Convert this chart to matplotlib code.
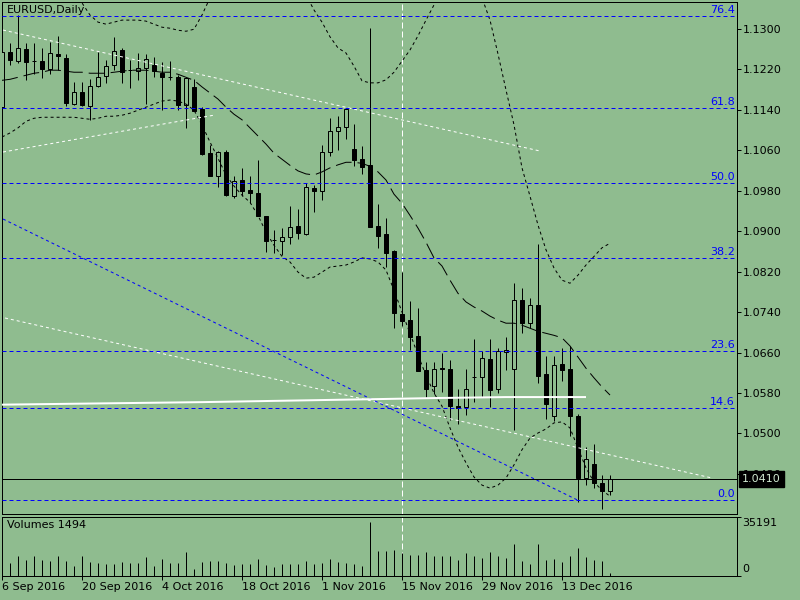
import matplotlib
matplotlib.use("Agg")
import matplotlib.pyplot as plt
import numpy as np

# ---------------- data ----------------
chart_title = "EURUSD,Daily"
volume_title = "Volumes 1494"
date_labels = ["6 Sep 2016", "20 Sep 2016", "4 Oct 2016", "18 Oct 2016",
               "1 Nov 2016", "15 Nov 2016", "29 Nov 2016", "13 Dec 2016"]
date_tick_bars = [0, 10, 20, 30, 40, 50, 60, 70]

opens = [1.1145,1.1254,1.1236,1.1259,1.1236,1.1236,1.1221,1.1251,1.1243,1.1151,
         1.1174,1.1147,1.1187,1.1206,1.1229,1.1258,1.1218,1.1217,1.1223,1.1229,
         1.1213,1.1205,1.1205,1.1149,1.1185,1.1141,1.1055,1.1008,1.1057,1.0969,
         1.1001,1.0982,1.0976,1.0930,1.0883,1.0881,1.0889,1.0910,1.0895,1.0985,
         1.0980,1.1056,1.1097,1.1106,1.1063,1.1042,1.1030,1.0910,1.0894,1.0861,
         1.0737,1.0724,1.0692,1.0626,1.0594,1.0629,1.0627,1.0555,1.0552,1.0612,
         1.0612,1.0648,1.0588,1.0661,1.0627,1.0764,1.0718,1.0753,1.0617,1.0534,
         1.0638,1.0627,1.0535,1.0413,1.0440,1.0402,1.0387]
highs = [1.1258,1.1271,1.1327,1.1271,1.1271,1.1261,1.1274,1.1286,1.1251,1.1195,
         1.1195,1.1200,1.1254,1.1238,1.1284,1.1261,1.1239,1.1252,1.1251,1.1244,
         1.1234,1.1236,1.1208,1.1205,1.1200,1.1146,1.1070,1.1059,1.1061,1.1008,
         1.1024,1.1008,1.1041,1.0930,1.0902,1.0906,1.0949,1.0943,1.0995,1.0992,
         1.1071,1.1123,1.1128,1.1143,1.1112,1.1069,1.1301,1.0954,1.0926,1.0863,
         1.0819,1.0761,1.0748,1.0642,1.0642,1.0660,1.0645,1.0587,1.0628,1.0686,
         1.0663,1.0686,1.0669,1.0690,1.0798,1.0788,1.0768,1.0875,1.0654,1.0654,
         1.0668,1.0673,1.0539,1.0473,1.0480,1.0418,1.0418]
lows = [1.1140,1.1228,1.1233,1.1198,1.1211,1.1203,1.1211,1.1218,1.1147,1.1149,
        1.1147,1.1120,1.1185,1.1193,1.1218,1.1192,1.1182,1.1198,1.1152,1.1205,
        1.1139,1.1198,1.1140,1.1103,1.1137,1.1050,1.1008,1.0988,1.0970,1.0965,
        1.0969,1.0955,1.0929,1.0858,1.0857,1.0852,1.0875,1.0884,1.0892,1.0937,
        1.0961,1.1049,1.1060,1.1082,1.1028,1.1012,1.0908,1.0866,1.0830,1.0709,
        1.0713,1.0665,1.0624,1.0573,1.0578,1.0582,1.0526,1.0519,1.0537,1.0562,
        1.0572,1.0552,1.0581,1.0625,1.0506,1.0698,1.0708,1.0599,1.0529,1.0524,
        1.0603,1.0495,1.0365,1.0398,1.0392,1.0351,1.0378]
closes = [1.1254,1.1238,1.1261,1.1234,1.1236,1.1220,1.1252,1.1246,1.1153,1.1174,
          1.1149,1.1187,1.1205,1.1226,1.1256,1.1215,1.1218,1.1223,1.1240,1.1216,
          1.1205,1.1205,1.1149,1.1202,1.1137,1.1052,1.1008,1.1057,1.0972,1.1000,
          1.0980,1.0975,1.0929,1.0881,1.0883,1.0888,1.0908,1.0896,1.0987,1.0980,
          1.1056,1.1097,1.1105,1.1142,1.1040,1.1026,1.0909,1.0890,1.0856,1.0738,
          1.0723,1.0690,1.0624,1.0587,1.0627,1.0627,1.0554,1.0551,1.0588,1.0612,
          1.0650,1.0585,1.0663,1.0665,1.0764,1.0718,1.0754,1.0614,1.0559,1.0636,
          1.0625,1.0535,1.0413,1.0449,1.0402,1.0387,1.0410]
volumes = [9000,7930,11930,9540,11930,9540,9140,11930,9140,5960,
           11930,8550,7550,7350,7350,8550,7550,7550,11530,5960,
           10330,7930,7550,14500,4370,8550,9140,9140,7930,6360,
           7350,7350,10330,6750,5560,7350,7350,7350,9140,7350,
           7550,10330,8550,7930,7350,5960,32200,15100,14700,15500,
           13500,12500,12500,14300,11930,11930,11930,9540,13900,11930,
           10530,14300,11930,10530,19070,8940,7150,19070,9540,9930,
           8340,11930,16500,11130,9540,8940,1494]
volume_max = 35191

band_upper = [1.1375,1.1378,1.1382,1.1385,1.1386,1.1385,1.1384,1.1382,1.1378,1.1366,
              1.1351,1.1327,1.1313,1.1309,1.1313,1.1317,1.1317,1.1317,1.1315,1.1309,
              1.1303,1.1301,1.1297,1.1295,1.1299,1.1327,1.1361,1.1390,1.1420,1.1440,
              1.1455,1.1465,1.1470,1.1465,1.1450,1.1430,1.1410,1.1385,1.1367,1.1337,
              1.1313,1.1284,1.1262,1.1252,1.1226,1.1197,1.1193,1.1193,1.1199,1.1214,
              1.1236,1.1258,1.1286,1.1317,1.1347,1.1376,1.1390,1.1400,1.1395,1.1380,
              1.1361,1.1317,1.1250,1.1179,1.1110,1.1025,1.0969,1.0912,1.0863,1.0827,
              1.0803,1.0797,1.0813,1.0833,1.0850,1.0867,1.0876]
band_mid = [1.1198,1.1200,1.1204,1.1208,1.1212,1.1214,1.1218,1.1218,1.1216,1.1214,
            1.1214,1.1212,1.1212,1.1212,1.1214,1.1216,1.1218,1.1218,1.1218,1.1216,
            1.1214,1.1214,1.1210,1.1204,1.1198,1.1185,1.1173,1.1161,1.1145,1.1131,
            1.1120,1.1104,1.1088,1.1072,1.1054,1.1042,1.1030,1.1019,1.1013,1.1011,
            1.1017,1.1025,1.1031,1.1036,1.1036,1.1034,1.1028,1.1017,1.1001,1.0973,
            1.0955,1.0931,1.0906,1.0878,1.0847,1.0831,1.0803,1.0777,1.0760,1.0750,
            1.0742,1.0732,1.0724,1.0718,1.0718,1.0714,1.0708,1.0702,1.0698,1.0694,
            1.0689,1.0673,1.0651,1.0629,1.0610,1.0592,1.0576]
band_lower = [1.1086,1.1094,1.1104,1.1117,1.1123,1.1125,1.1125,1.1125,1.1125,1.1125,
              1.1123,1.1121,1.1123,1.1127,1.1127,1.1129,1.1133,1.1139,1.1145,1.1151,
              1.1157,1.1159,1.1157,1.1151,1.1139,1.1110,1.1076,1.1044,1.1011,1.0989,
              1.0971,1.0957,1.0931,1.0898,1.0872,1.0850,1.0839,1.0819,1.0807,1.0809,
              1.0819,1.0829,1.0831,1.0833,1.0839,1.0847,1.0845,1.0839,1.0823,1.0783,
              1.0740,1.0698,1.0655,1.0615,1.0580,1.0554,1.0511,1.0473,1.0442,1.0414,
              1.0398,1.0392,1.0398,1.0412,1.0438,1.0468,1.0491,1.0501,1.0509,1.0521,
              1.0523,1.0511,1.0471,1.0432,1.0404,1.0388,1.0376]

fib_levels = [76.4, 61.8, 50.0, 38.2, 23.6, 14.6, 0.0]
fib_price_0 = 1.0368
fib_price_100 = 1.1621

# drawn trend objects: (bar, price) end points
trend_white_upper = ([0.125, 67.25], [1.12974, 1.10583])
trend_white_lower = ([0.375, 88.75], [1.07283, 1.04120])
trend_white_rising = ([0.125, 26.6], [1.10563, 1.11294])
trend_blue = ([0.125, 72.0], [1.09239, 1.03680])
ma_white_bars = [0, 25, 47, 54, 63, 73]
ma_white_prices = [1.0557, 1.0562, 1.0568, 1.0570, 1.0572, 1.0572]
vline_bar = 50
bid_price = 1.0410

price_ticks = [1.1300, 1.1220, 1.1140, 1.1060, 1.0980, 1.0900, 1.0820,
               1.0740, 1.0660, 1.0580, 1.0500, 1.0420]

# ---------------- style ----------------
BG = "#8FBC8F"
PX = 0.72  # 1 pixel in points
W, H = 800, 600
plt.rcParams['font.family'] = ['DejaVu Sans']
plt.rcParams['font.size'] = 8

fig = plt.figure(figsize=(8, 6), dpi=100, facecolor=BG)
ax = fig.add_axes([2 / W, 1 - 514 / H, 735 / W, 512 / H], facecolor=BG)
axv = fig.add_axes([2 / W, 1 - 576 / H, 735 / W, 59 / H], facecolor=BG)

n = len(opens)
bars = np.arange(n)
o = np.array(opens); c = np.array(closes); hi = np.array(highs); lo = np.array(lows)
bull = c >= o

# candles
ax.vlines(bars, lo, hi, color="black", linewidth=PX, zorder=2)
body_w = 0.56
ax.bar(bars[bull], (c - o)[bull], bottom=o[bull], width=body_w,
       facecolor=BG, edgecolor="black", linewidth=PX, zorder=3)
ax.bar(bars[~bull], (o - c)[~bull], bottom=c[~bull], width=body_w,
       facecolor="black", edgecolor="black", linewidth=PX, zorder=3)

# bands
ax.plot(bars, band_upper, color="black", linewidth=PX, linestyle=(0, (3, 3)), zorder=4)
ax.plot(bars, band_lower, color="black", linewidth=PX, linestyle=(0, (3, 3)), zorder=4)
ax.plot(bars, band_mid, color="black", linewidth=PX, linestyle=(0, (16, 6)), zorder=4)

# trend objects
ax.plot(*trend_white_upper, color="white", linewidth=PX, linestyle=(0, (3, 3)), zorder=5)
ax.plot(*trend_white_lower, color="white", linewidth=PX, linestyle=(0, (3, 3)), zorder=5)
ax.plot(*trend_white_rising, color="white", linewidth=PX, linestyle=(0, (3, 3)), zorder=5)
ax.plot(*trend_blue, color="#0000FF", linewidth=PX, linestyle=(0, (3, 3)), zorder=5)
ax.plot(ma_white_bars, ma_white_prices, color="white", linewidth=2 * PX, zorder=5,
        solid_capstyle="butt")

# fibonacci levels
for lv in fib_levels:
    p = fib_price_0 + lv / 100.0 * (fib_price_100 - fib_price_0)
    ax.axhline(p, color="#0000FF", linewidth=PX, linestyle=(0, (4, 3)), zorder=5)
    ax.annotate(f"{lv:.1f}", xy=(1, p), xycoords=("axes fraction", "data"),
                xytext=(-2, 3), textcoords="offset pixels", ha="right", va="baseline",
                color="#0000FF", fontsize=8, zorder=6)

# bid line
ax.axhline(bid_price, color="black", linewidth=PX, zorder=5)

# vertical separator
for a in (ax, axv):
    a.axvline(vline_bar, color="white", linewidth=PX, linestyle=(0, (6, 3)), zorder=1)

# axes limits
xmax = 735 / 8.0
ax.set_xlim(0, xmax)
axv.set_xlim(0, xmax)
ax.set_ylim(1.03409, 1.13528)
axv.set_ylim(0, volume_max)

# price axis
ax.yaxis.tick_right()
ax.set_yticks(price_ticks)
ax.set_yticklabels([f"{t:.4f}" for t in price_ticks])
ax.tick_params(axis="y", direction="out", length=3, width=PX, pad=1.5, labelsize=8,
               colors="black")
ax.tick_params(axis="x", bottom=False, labelbottom=False)
for s in ax.spines.values():
    s.set_linewidth(PX); s.set_color("black")

ax.annotate(f"{bid_price:.4f}", xy=(1, bid_price), xycoords=("axes fraction", "data"),
            xytext=(5, 0), textcoords="offset pixels", ha="left", va="center",
            color="#D0E8D0", fontsize=8, zorder=10, annotation_clip=False,
            bbox=dict(boxstyle="square,pad=0.25", fc="black", ec="black"))

ax.annotate(chart_title, xy=(0, 1), xycoords="axes fraction", xytext=(5, -3),
            textcoords="offset pixels", ha="left", va="top", fontsize=8)

# volume panel
axv.vlines(bars, 0, volumes, color="black", linewidth=PX, zorder=3)
axv.yaxis.tick_right()
axv.set_yticks([0, volume_max])
axv.set_yticklabels(["", ""])
axv.tick_params(axis="y", direction="out", length=3, width=PX)
axv.annotate(str(volume_max), xy=(1, 1), xycoords="axes fraction", xytext=(5, -1),
             textcoords="offset pixels", ha="left", va="top", fontsize=8)
axv.annotate("0", xy=(1, 0), xycoords="axes fraction", xytext=(5, 2),
             textcoords="offset pixels", ha="left", va="bottom", fontsize=8)
axv.annotate(volume_title, xy=(0, 1), xycoords="axes fraction", xytext=(5, -3),
             textcoords="offset pixels", ha="left", va="top", fontsize=8)
axv.set_xticks(date_tick_bars)
axv.set_xticklabels(date_labels)
axv.tick_params(axis="x", direction="out", length=3, width=PX, pad=1, labelsize=8)
for lbl in axv.get_xticklabels():
    lbl.set_ha("left")
for s in axv.spines.values():
    s.set_linewidth(PX); s.set_color("black")

fig.savefig("out.png", dpi=100, facecolor=BG)
